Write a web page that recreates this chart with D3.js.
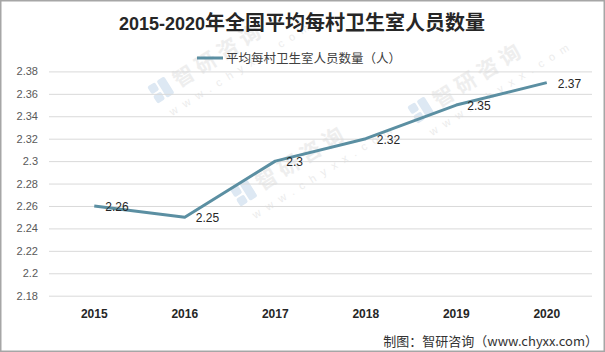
<!DOCTYPE html>
<html>
<head>
<meta charset="utf-8">
<script src="https://cdn.jsdelivr.net/npm/d3@7"></script>
<style>
  html, body { margin: 0; padding: 0; background: #fff; }
  svg { display: block; }
</style>
</head>
<body>
<svg id="chart" width="605" height="352"></svg>
<script>
const years = ["2015", "2016", "2017", "2018", "2019", "2020"];
const values = [2.26, 2.25, 2.3, 2.32, 2.35, 2.37];
const valueLabels = ["2.26", "2.25", "2.3", "2.32", "2.35", "2.37"];
const yTicks = [2.18, 2.2, 2.22, 2.24, 2.26, 2.28, 2.3, 2.32, 2.34, 2.36, 2.38];
const yTickLabels = ["2.18", "2.2", "2.22", "2.24", "2.26", "2.28", "2.3", "2.32", "2.34", "2.36", "2.38"];
const titleNum = "2015-2020";
const titleText = "年全国平均每村卫生室人员数量";
const legendText = "平均每村卫生室人员数量（人）";
const footerText = "制图：智研咨询（www.chyxx.com）";
const wmText = "智研咨询";
const wmUrl = "www.chyxx.com";

const W = 605, H = 352;
const svg = d3.select("#chart");
svg.append("rect").attr("width", W).attr("height", H).attr("fill", "#fff");

// watermarks (only the ones that fit fully inside the picture)
const wmPos = [[243, 203], [160, 100], [420, 120]];
wmPos.forEach(([wx, wy]) => {
  const g = svg.append("g").attr("transform", `translate(${wx},${wy}) rotate(-32)`);
  g.append("rect").attr("x", -4).attr("y", -18).attr("width", 9).attr("height", 9).attr("rx", 2).attr("fill", "#dde8f3");
  g.append("rect").attr("x", 7).attr("y", -18).attr("width", 9).attr("height", 20).attr("rx", 2).attr("fill", "#dde8f3");
  g.append("rect").attr("x", -4).attr("y", -7).attr("width", 9).attr("height", 9).attr("rx", 2).attr("fill", "#dde8f3");
  g.append("text").attr("x", 22).attr("y", 0)
    .attr("font-family", "Noto Sans CJK SC").attr("font-weight", 700).attr("font-size", 21)
    .attr("letter-spacing", 5).attr("fill", "#eeeeee").text(wmText);
  g.append("text").attr("x", 2).attr("y", 20)
    .attr("font-family", "Liberation Sans").attr("font-size", 11)
    .attr("letter-spacing", 7).attr("fill", "#ececec").text(wmUrl);
});

const x = d3.scaleBand().domain(years).range([49, 592]);
const y = d3.scaleLinear().domain([2.18, 2.38]).range([295.7, 71.4]);
const cx = d => x(d) + x.bandwidth() / 2;

// gridlines + y labels
const yAxis = d3.axisLeft(y).tickValues(yTicks).tickSize(-(592 - 49))
  .tickFormat((d, i) => yTickLabels[i]).tickPadding(11);
const ga = svg.append("g").attr("transform", "translate(49,0)").call(yAxis);
ga.select(".domain").remove();
ga.selectAll(".tick line").attr("stroke", "#d9d9d9").attr("stroke-width", 1);
ga.selectAll(".tick text").attr("font-family", "Liberation Sans").attr("font-size", 11)
  .attr("fill", "#595959");

// x axis labels
const xAxis = d3.axisBottom(x).tickSize(0).tickPadding(0);
const gx = svg.append("g").attr("transform", "translate(0,309)").call(xAxis);
gx.select(".domain").remove();
gx.selectAll(".tick text").attr("font-family", "Liberation Sans").attr("font-weight", 700)
  .attr("font-size", 12).attr("fill", "#262626").attr("dy", "0.71em");

// line
const line = d3.line().x((d, i) => cx(years[i])).y(d => y(d));
svg.append("path").datum(values).attr("d", line).attr("fill", "none")
  .attr("stroke", "#5b8fa2").attr("stroke-width", 3).attr("stroke-linejoin", "round");

// data labels
svg.append("g").selectAll("text").data(values).join("text")
  .attr("x", (d, i) => cx(years[i]) + 11)
  .attr("y", d => y(d) + 1)
  .attr("dy", "0.35em")
  .attr("font-family", "Liberation Sans").attr("font-size", 12).attr("fill", "#262626")
  .text((d, i) => valueLabels[i]);

// title
const t = svg.append("text").attr("x", 302).attr("y", 30).attr("text-anchor", "middle")
  .attr("fill", "#262626").attr("font-weight", 700);
t.append("tspan").attr("font-family", "Liberation Sans").attr("font-size", 18).text(titleNum);
t.append("tspan").attr("font-family", "Noto Sans CJK SC").attr("font-size", 20).text(titleText);

// legend
svg.append("line").attr("x1", 197).attr("x2", 223).attr("y1", 58).attr("y2", 58)
  .attr("stroke", "#5b8fa2").attr("stroke-width", 3);
svg.append("text").attr("x", 226).attr("y", 63).attr("font-family", "Noto Sans CJK SC")
  .attr("font-size", 12.5).attr("fill", "#404040").text(legendText);

// footer
svg.append("text").attr("x", 598).attr("y", 346).attr("text-anchor", "end")
  .attr("font-family", "Noto Sans CJK SC").attr("font-size", 13).attr("fill", "#333")
  .text(footerText);

// border
svg.append("rect").attr("x", 0.75).attr("y", 0.75).attr("width", W - 1.5).attr("height", H - 1.5)
  .attr("fill", "none").attr("stroke", "#a6a6a6").attr("stroke-width", 1.5);
</script>
</body>
</html>
